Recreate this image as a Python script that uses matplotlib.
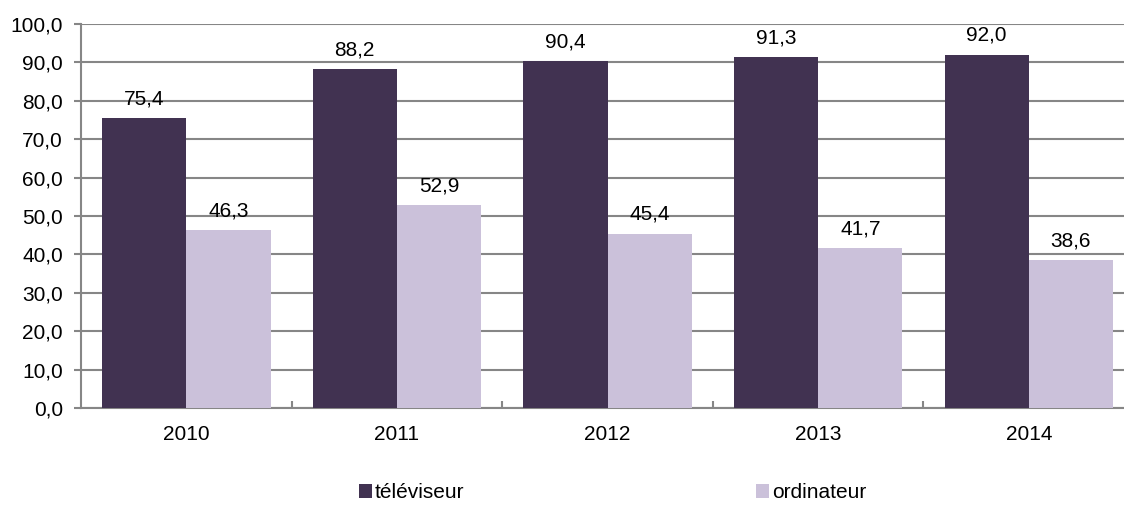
import matplotlib.pyplot as plt
import numpy as np

plt.rcParams['font.family'] = ['Liberation Sans', 'DejaVu Sans']

years = ['2010', '2011', '2012', '2013', '2014']
televiseur = [75.4, 88.2, 90.4, 91.3, 92.0]
ordinateur = [46.3, 52.9, 45.4, 41.7, 38.6]

DARK = '#413251'
LIGHT = '#cbc1da'
GRID = '#868686'
FS = 15

fig = plt.figure(figsize=(11.24, 5.07), dpi=100)
ax = fig.add_axes([0.072, 0.195, 0.937, 0.758])

x = np.arange(len(years))
w = 0.4
b1 = ax.bar(x - w / 2, televiseur, w, color=DARK, label='téléviseur', zorder=3)
b2 = ax.bar(x + w / 2, ordinateur, w, color=LIGHT, label='ordinateur', zorder=3)

fmt = lambda v: f'{v:.1f}'.replace('.', ',')
for bars, vals in ((b1, televiseur), (b2, ordinateur)):
    for r, v in zip(bars, vals):
        ax.annotate(fmt(v), (r.get_x() + r.get_width() / 2, v),
                    xytext=(0, 7), textcoords='offset points',
                    ha='center', va='bottom', fontsize=FS)

ax.set_ylim(0, 100)
ax.set_xlim(-0.5, len(years) - 0.5)
ax.set_yticks(np.arange(0, 101, 10))
ax.set_yticklabels([fmt(v) for v in np.arange(0, 101, 10)], fontsize=FS)
ax.yaxis.grid(True, color=GRID, linewidth=1.5, zorder=0)
ax.set_axisbelow(True)

ax.set_xticks(x)
ax.set_xticklabels(years, fontsize=FS)
ax.set_xticks(np.arange(0.5, len(years) - 0.5), minor=True)
ax.tick_params(axis='x', which='major', length=0, pad=12)
ax.tick_params(axis='x', which='minor', direction='in', length=5, color=GRID, width=1.5)
ax.tick_params(axis='y', length=5, color=GRID, width=1.5, pad=8)

for s in ('top', 'right'):
    ax.spines[s].set_visible(False)
for s in ('left', 'bottom'):
    ax.spines[s].set_color(GRID)
    ax.spines[s].set_linewidth(1.5)

fig.legend(loc='center', bbox_to_anchor=(0.545, 0.028), ncol=2, frameon=False,
           fontsize=FS, handlelength=0.6, handleheight=0.6, handletextpad=0.15,
           columnspacing=14.0)

fig.savefig('out.png', dpi=100)
